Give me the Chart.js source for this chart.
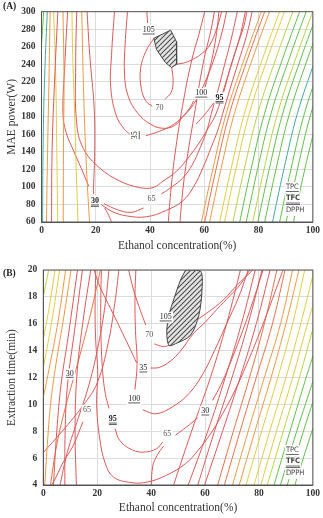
<!DOCTYPE html>
<html><head><meta charset="utf-8">
<script src="https://cdn.jsdelivr.net/npm/chart.js@4.4.0/dist/chart.umd.min.js"></script>
<style>
html,body{margin:0;padding:0;background:#fff;width:323px;height:518px;overflow:hidden}
.wrap{position:absolute;left:0;width:323px}
#wa{top:0;height:256px}
#wb{top:256px;height:262px}
.tag{position:absolute;left:3px;font:bold 9.5px "Liberation Serif",serif;color:#222}
</style></head><body>
<div class="wrap" id="wa"><canvas id="ca" width="323" height="256"></canvas></div>
<div class="wrap" id="wb"><canvas id="cb" width="323" height="262"></canvas></div>
<div class="tag" style="top:1px">(A)</div>
<div class="tag" style="top:268px">(B)</div>
<script>
// ---------- axis ticks ----------
const X_TICKS = [0, 20, 40, 60, 80, 100];
const A_Y_TICKS = [60, 300];
const B_Y_TICKS = [4, 20];
const X_TITLE = 'Ethanol concentration(%)';
const A_Y_TITLE = 'MAE power(W)';
const B_Y_TITLE = 'Extraction time(min)';

// ---------- chart A contour lines (x = ethanol %, y = power W) ----------
const A_L1 = [[[0,262],[0.9,305]]];
const A_L2 = [[[0.4,55],[0.6,150],[1.2,230],[2.2,305]]];
const A_L3 = [[[1.8,55],[2.3,150],[2.8,230],[3.2,305]]];
const A_L4 = [[[3.7,55],[3.9,140],[4.8,220],[6.1,305]]];
const A_L5 = [[[6,55],[5.6,150],[5.2,230],[4.4,305]]];
const A_L6 = [[[8,55],[8.1,150],[8.3,220],[7.9,305]]];
const A_L7 = [[[13.5,55],[12.8,120],[12.2,184],[11.5,250],[11.2,305]]];
const A_L8 = [[[17.8,55],[16.6,120],[15.6,200],[14.8,305]]];
const A_L9 = [[[26.4,55],[25,66],[23.3,76]]];
const A_X = [[[9.7,305],[8.6,240],[7.9,184],[9.1,162],[12,140],[14.6,121.5],[17.4,101]]];
const A_30 = [[[16.7,305],[17.8,250],[19.4,190],[19.6,140],[19.2,100],[19.2,92]],
              [[22,80],[26,72],[31.3,67],[38.7,66],[46,73.3],[52,84],[56,100],[59.5,122],[62.5,145],[65,165],[66.8,184],[69.5,212],[72.5,242],[75.5,272],[78,305]]];
const A_65 = [[[23,81],[28,74],[33,71],[37.6,76]],
              [[44.2,92],[48,100],[52,110],[55.5,125],[58.5,145],[61,165],[62.6,184],[65,210],[67.5,240],[70,270],[72.5,305]]];
const A_U65 = [[[13,305],[12.6,240],[12.9,175],[15.4,144],[21.5,121.5],[28.9,106.7],[36.2,99.3],[41.1,99.3],[44.8,106.7],[49.7,117.8],[54,133],[58,150],[61.2,166],[64.4,184],[67.5,215],[70.5,245],[73.4,275],[75.4,305]]];
const A_U35 = [[[27,305],[25.8,250],[25.5,214],[27.6,181],[30.5,166],[32.5,160.5]],
               [[38.5,158.5],[43,163],[48,170],[52,180],[55,190],[58,205],[61,225],[64,250],[66.8,280],[68.5,305]]];
const A_70 = [[[38.7,305],[39.1,287]],[[41.4,269.7],[38.5,255],[36.5,235],[36.8,212],[38.5,198],[40.8,192]]];
const A_H1 = [[[49.8,240],[53,242],[56,246],[59,252],[62,262],[64.5,280],[66.8,305]]];
const A_H2 = [[[48,236.5],[48.5,221],[47.8,208],[45.5,200]]];
const A_100 = [[[31.8,305],[30.8,262],[30.6,228],[32,203],[35.5,184],[40,172],[44.5,167],[49,170],[52,180],[54.8,191],[56,198]],
               [[60.3,214],[62,235],[63.6,258],[64.8,283],[65.5,305]]];
const A_95 = [[[57,172],[60,182],[62.5,192],[63.5,196]],[[67.2,209],[69.5,235],[72,260],[74.5,283],[76,305]]];
const A_R1 = [[[46.6,55],[47.8,100],[49.3,140],[51.5,184],[55,240],[58.5,280],[60.5,305]]];
const A_R2 = [[[50.9,55],[52.2,100],[54,140],[56.4,184],[59.5,240],[62.5,280],[64,305]]];
const A_D1 = [[[58.6,55],[63.1,120],[68.1,184],[74.6,245],[81.6,305]]];
const A_D2 = [[[59.8,55],[64.3,120],[69.3,184],[75.8,245],[82.8,305]]];
const A_D3 = [[[61.6,55],[66.1,120],[71.1,184],[77.6,245],[84.6,305]]];
const A_D4 = [[[65.3,55],[69.8,120],[74.8,184],[81.3,245],[88.3,305]]];
const A_D5 = [[[67.1,55],[71.6,120],[76.6,184],[83.1,245],[90.1,305]]];
const A_D6 = [[[70.2,55],[74.7,120],[79.7,184],[86.2,245],[93.2,305]]];
const A_D7 = [[[72.7,55],[77.2,120],[82.2,184],[88.7,245],[95.7,305]]];
const A_D8 = [[[75.1,55],[79.6,120],[84.6,184],[91.1,245],[98.1,305]]];
const A_D9 = [[[77.5,55],[82,120],[87,184],[93.5,245],[100.5,305]]];
const A_D10 = [[[79.4,55],[83.9,120],[88.9,184],[95.4,245],[102.4,305]]];
const A_D11 = [[[81.9,55],[86.4,120],[91.4,184],[97.9,245],[104.9,305]]];
const A_D12 = [[[84.8,55],[89.3,120],[94.3,184],[100.8,245]]];
const A_D13 = [[[87.4,55],[91.9,120],[96.9,184],[103.4,245]]];
const A_D14 = [[[89.8,55],[94.3,120],[99.3,184],[105.8,245]]];
const A_D15 = [[[92.5,55],[97,120],[102,184]]];
const A_HATCH = [[41.4,269.7],[47.6,278.9],[49.7,265.9],[49.8,240],[47.9,236.3],[45.7,241.9],[42.4,256.7],[41.4,269.7]];

// ---------- chart B contour lines (x = ethanol %, y = time min) ----------
const B_L1 = [[[-0.5,17.5],[2.3,20.3]]];
const B_L2 = [[[-0.5,14.3],[2,17],[4.6,20.3]]];
const B_L3 = [[[-0.5,12.2],[3,16],[6.3,20.3]]];
const B_L4 = [[[-0.5,10],[2.5,13],[5.5,16.2],[8.5,20.3]]];
const B_L5 = [[[0.5,3.8],[1.5,7],[2.7,10],[4.7,13],[7.6,16.5],[10.5,20.3]]];
const B_L6 = [[[3.7,3.8],[5,8],[6.6,11.5],[9.2,15],[12.9,20.3]]];
const B_L7 = [[[8,3.8],[8.1,8],[9,11.5],[11.6,15.5],[14.7,20.3]]];
const B_L8 = [[[12.3,3.8],[11.8,8],[12.4,12],[14.6,16],[17.8,20.3]]];
const B_L9 = [[[-0.5,6.3],[7,8],[14.7,9.9],[20,11.6],[24,14.5],[26.5,17.5],[28.2,20.3]]];
const B_L10 = [[[14.7,8.7],[11,6.9],[7.4,5.7],[3.7,4.2],[1.5,3.6]]];
const B_L11 = [[[2.5,3.8],[5,7],[8.5,10],[12,12.5],[16,15.5],[19,18],[21.5,20.3]]];
const B_L12 = [[[6,3.8],[9,6.5],[13,9],[17,11.5],[20.5,14.5],[23,17.5],[24.5,20.3]]];
const B_U = [[[19.5,20.3],[19.2,17],[19.5,14.5],[20.2,12.4],[19.8,10],[20.9,7.5],[23,5.6],[26,4.6],[31.9,4.2],[38.1,4.2],[45.4,4.7],[52.8,5.6],[57.5,6.6],[62,7.8],[66.5,9.3],[71,11],[75.5,13],[80,15.2],[84,17.3],[88,19.5],[89.5,20.3]]];
const B_95 = [[[21.6,20.3],[21.3,17.5],[21.4,15],[22,12.5],[23,10.8],[24.4,9.7]],
              [[26.6,8.2],[28.4,7.3],[33.1,6.6],[37.4,6.45],[42,6.7],[44.3,7.2]]];
const B_65D = [[[44.6,6.9],[42.2,6.2],[40.6,5.4],[40,3.8]]];
const B_65R = [[[49,7.7],[53,8.3],[57.3,9]],[[62.8,10.3],[66,11.5],[70,13.4],[74,15.5],[78,17.8],[82,20.3]]];
const B_100 = [[[34.4,20.3],[34,18],[34.2,15.5],[34.8,13],[34,11.1]],
               [[36.9,9.6],[41.7,9.3],[47.8,9.8],[54,10.8],[59,12.2],[63.5,14],[68,16],[72.5,18],[76.5,20.3]]];
const B_35 = [[[18.4,20.3],[20.5,19],[23.3,17.8],[26.5,16.5],[29.4,15.3],[32.5,14],[34.6,13.1]],
              [[39.8,12.7],[43,12.75],[47,13.2],[51,14],[55.8,15.3],[60,16.1],[64.4,17.07],[69.3,18.1],[73,18.9],[77.5,20.3]]];
const B_70 = [[[31.3,20.3],[33.5,18.5],[36,17],[38,15.9]],[[41.2,14.5],[44.5,14.3],[46.6,14.39]]];
const B_H1 = [[[55.2,16.07],[60.7,16.8],[66.9,17.8],[72,18.9],[76.7,19.8],[78.5,20.3]]];
const B_R1 = [[[48,3.8],[55,8],[62,12],[68,16],[73.5,20.3]]];
const B_R2 = [[[53.4,3.8],[61,8],[67.5,12],[73.5,16],[79,20.3]]];
const B_R3 = [[[57,3.8],[63.5,8],[70,12],[76,16],[81.5,20.3]]];
const B_R4 = [[[59.5,3.8],[66.5,8],[73,12],[79,16],[84.5,20.3]]];
const B_R5 = [[[64.4,3.8],[70.5,8],[76.5,12],[82,16],[87,20.3]]];
const B_R6 = [[[66.9,3.8],[73,8],[79,12],[85,16],[90,20.3]]];
const B_R7 = [[[69.9,3.8],[76,8],[82,12],[88,16],[92.8,20.3]]];
const B_R8 = [[[72.4,3.8],[78.5,8],[84.5,12],[90,16],[95.2,20.3]]];
const B_R9 = [[[74.9,3.8],[81,8],[87,12],[92.5,16],[97.3,20.3]]];
const B_R10 = [[[77.9,3.8],[84,8],[90,12],[95.5,16],[100.5,20]]];
const B_R11 = [[[80.4,3.8],[86.5,8],[92.5,12],[98,16],[101,18]]];
const B_R12 = [[[82.8,3.8],[89,8],[95,12],[100.5,16]]];
const B_R13 = [[[85.3,3.8],[91.5,8],[97.5,12],[101,14.2]]];
const B_R14 = [[[87.7,3.8],[94,8],[100.5,12]]];
const B_R15 = [[[90.2,3.8],[96.5,8],[101,10.8]]];
const B_R16 = [[[93,3.8],[99,7.6],[101,8.8]]];
const B_HATCH = [[52.8,20],[58.3,19.93],[58.9,18.63],[57.7,16.63],[54.6,15.14],[49.1,14.52],[46.6,14.39],[45.8,15.39],[46.6,16.63],[48.5,17.88],[50.9,19.25],[52.8,20]];

// ---------- contour labels: text, x, y, underline (0 none, 1 single, 2 double), rotate ----------
const A_LABELS = [['105',39.5,279,1,0],['70',43.5,190,0,0],['100',58.9,207,1,0],['95',65.6,202,2,0],['35',34.6,159,1,1],['30',19.7,84,2,0],['65',40.5,86,0,0]];
const B_LABELS = [['105',45.4,16.5,1,0],['70',39.3,15.2,0,0],['35',37.1,12.7,1,0],['30',9.8,12.3,1,0],['65',16.2,9.6,0,0],['95',25.8,8.9,2,0],['100',33.7,10.4,1,0],['65',46,7.8,0,0],['30',60.1,9.5,1,0]];
const LEGEND_ITEMS = ['TPC','TFC','DPPH'];

// ---------- styling ----------
const COL = {R:'rgb(220,88,88)', OR:'rgb(228,112,74)', O:'rgb(237,152,66)', Y:'rgb(226,204,66)', YG:'rgb(184,212,66)', G:'rgb(96,190,74)', T:'rgb(66,170,150)'};
const LINES_A = [[A_L1,'G'],[A_L2,'T'],[A_L3,'O'],[A_L4,'R'],[A_L5,'Y'],[A_L6,'O'],[A_L7,'Y'],[A_L8,'O'],[A_L9,'R'],
  [A_X,'R'],[A_30,'R'],[A_65,'R'],[A_U65,'R'],[A_U35,'R'],[A_70,'R'],[A_H1,'R'],[A_H2,'R'],[A_100,'R'],[A_95,'R'],[A_R1,'R'],[A_R2,'R'],
  [A_D1,'O'],[A_D2,'OR'],[A_D3,'O'],[A_D4,'Y'],[A_D5,'Y'],[A_D6,'YG'],[A_D7,'G'],[A_D8,'G'],[A_D9,'YG'],[A_D10,'G'],[A_D11,'G'],[A_D12,'T'],[A_D13,'G'],[A_D14,'G'],[A_D15,'G']];
const LINES_B = [[B_L1,'YG'],[B_L2,'Y'],[B_L3,'Y'],[B_L4,'O'],[B_L5,'O'],[B_L6,'R'],[B_L7,'R'],[B_L8,'R'],[B_L9,'R'],[B_L10,'R'],[B_L11,'OR'],[B_L12,'R'],
  [B_U,'R'],[B_95,'R'],[B_65D,'R'],[B_65R,'R'],[B_100,'R'],[B_35,'R'],[B_70,'R'],[B_H1,'R'],
  [B_R1,'R'],[B_R2,'R'],[B_R3,'R'],[B_R4,'R'],[B_R5,'OR'],[B_R6,'OR'],[B_R7,'O'],[B_R8,'O'],[B_R9,'Y'],[B_R10,'Y'],[B_R11,'Y'],[B_R12,'YG'],[B_R13,'G'],[B_R14,'G'],[B_R15,'G'],[B_R16,'G']];

function hatchPattern(){
  const c = document.createElement('canvas'); c.width = 5; c.height = 5;
  const g = c.getContext('2d');
  g.fillStyle = '#e4e4e4'; g.fillRect(0,0,5,5);
  g.strokeStyle = '#505050'; g.lineWidth = 1.1;
  g.beginPath(); g.moveTo(-1,6); g.lineTo(6,-1); g.moveTo(-1,1); g.lineTo(1,-1); g.moveTo(4,6); g.lineTo(6,4); g.stroke();
  return g.createPattern(c,'repeat');
}

function buildDatasets(lines, hatch, hatchTension){
  const out = [{data: hatch.map(([x,y])=>({x,y})), showLine:true, pointRadius:0, borderColor:'#444', borderWidth:1,
     backgroundColor: hatchPattern(), fill:'shape', tension:hatchTension}];
  lines.forEach(([parts,c])=>parts.forEach(p=>out.push({data:p.map(([x,y])=>({x,y})), showLine:true, pointRadius:0,
     borderColor:COL[c], borderWidth:1, tension:0.4, fill:false})));
  return out;
}

const frame = {id:'frame', afterDraw(ch){const a=ch.chartArea,c=ch.ctx;c.save();c.strokeStyle='#555';c.lineWidth=1;c.strokeRect(a.left,a.top,a.right-a.left,a.bottom-a.top);c.restore();}};
const clabels = {id:'clabels', afterDatasetsDraw(ch,args,opts){
  const c=ch.ctx, xs=ch.scales.x, ys=ch.scales.y;
  (opts.items||[]).forEach(([t,vx,vy,u,rot])=>{
    const px=xs.getPixelForValue(vx), py=ys.getPixelForValue(vy);
    c.save(); c.translate(px,py); if(rot) c.rotate(-Math.PI/2);
    c.font=(u===2?'bold ':'')+'8px "Liberation Serif", serif';
    const w=c.measureText(t).width;
    c.fillStyle='#fff'; c.fillRect(-w/2-1.5,-5,w+3,u?11:10);
    c.fillStyle=u?'#222':'#555'; c.textAlign='center'; c.textBaseline='middle'; c.fillText(t,0,0);
    if(u){c.strokeStyle='#333';c.lineWidth=0.8;c.beginPath();c.moveTo(-w/2,3.9);c.lineTo(w/2,3.9);
      if(u===2){c.moveTo(-w/2,5.4);c.lineTo(w/2,5.4);} c.stroke();}
    c.restore();
  });
  // legend of response names
  const a=ch.chartArea, lx=a.right-27, by=a.bottom;
  c.save(); c.textBaseline='middle'; c.textAlign='left'; c.fillStyle='#444';
  const ys2=[by-35,by-23.5,by-12];
  LEGEND_ITEMS.forEach((t,i)=>{
    c.font=(i===1?'bold ':'')+'7.5px "DejaVu Sans Condensed","DejaVu Sans",sans-serif';
    const w=c.measureText(t).width;
    c.fillStyle='#fff'; c.fillRect(lx-1,ys2[i]-5,w+2,11);
    c.fillStyle='#444'; c.fillText(t,lx,ys2[i]);
    if(i<2){c.strokeStyle='#444';c.lineWidth=0.8;c.beginPath();c.moveTo(lx,ys2[i]+4.5);c.lineTo(lx+w,ys2[i]+4.5);
      if(i===1){c.moveTo(lx,ys2[i]+6);c.lineTo(lx+w,ys2[i]+6);} c.stroke();}
  });
  c.restore();
}};

const tickFont = {family:'"Liberation Serif", serif', size:9.5, weight:'bold'};
const titleFont = {family:'"Liberation Serif", serif', size:11.5};

function makeChart(id, lines, hatch, ht, labels, yTicks, yStep, yTitle, yW, xH, padTop, padRight){
  new Chart(document.getElementById(id), {
    type:'scatter',
    data:{datasets: buildDatasets(lines, hatch, ht)},
    options:{
      responsive:false, animation:false, events:[],
      layout:{padding:{top:padTop,right:padRight,left:0,bottom:0}},
      plugins:{legend:{display:false}, tooltip:{enabled:false}, clabels:{items:labels}},
      scales:{
        x:{type:'linear', min:X_TICKS[0], max:X_TICKS[X_TICKS.length-1],
           ticks:{stepSize:X_TICKS[1]-X_TICKS[0], font:tickFont, color:'#333', padding:3, maxRotation:0},
           grid:{color:'#dcdcdc', drawTicks:false}, border:{color:'#555'},
           title:{display:true, text:X_TITLE, font:titleFont, color:'#333', padding:{top:0,bottom:3}},
           afterFit(s){s.height=xH;}},
        y:{type:'linear', min:yTicks[0], max:yTicks[1],
           ticks:{stepSize:yStep, font:tickFont, color:'#333', padding:6},
           grid:{color:'#dcdcdc', drawTicks:false}, border:{color:'#555'},
           title:{display:true, text:yTitle, font:titleFont, color:'#333', padding:{top:5,bottom:0}},
           afterFit(s){s.width=yW;}}
      }
    },
    plugins:[frame, clabels]
  });
}

makeChart('ca', LINES_A, A_HATCH, 0, A_LABELS, A_Y_TICKS, 20, A_Y_TITLE, 41.5, 34, 6, 9.5);
makeChart('cb', LINES_B, B_HATCH, 0.3, B_LABELS, B_Y_TICKS, 2, B_Y_TITLE, 43.3, 33, 14, 8);
</script>
</body></html>
